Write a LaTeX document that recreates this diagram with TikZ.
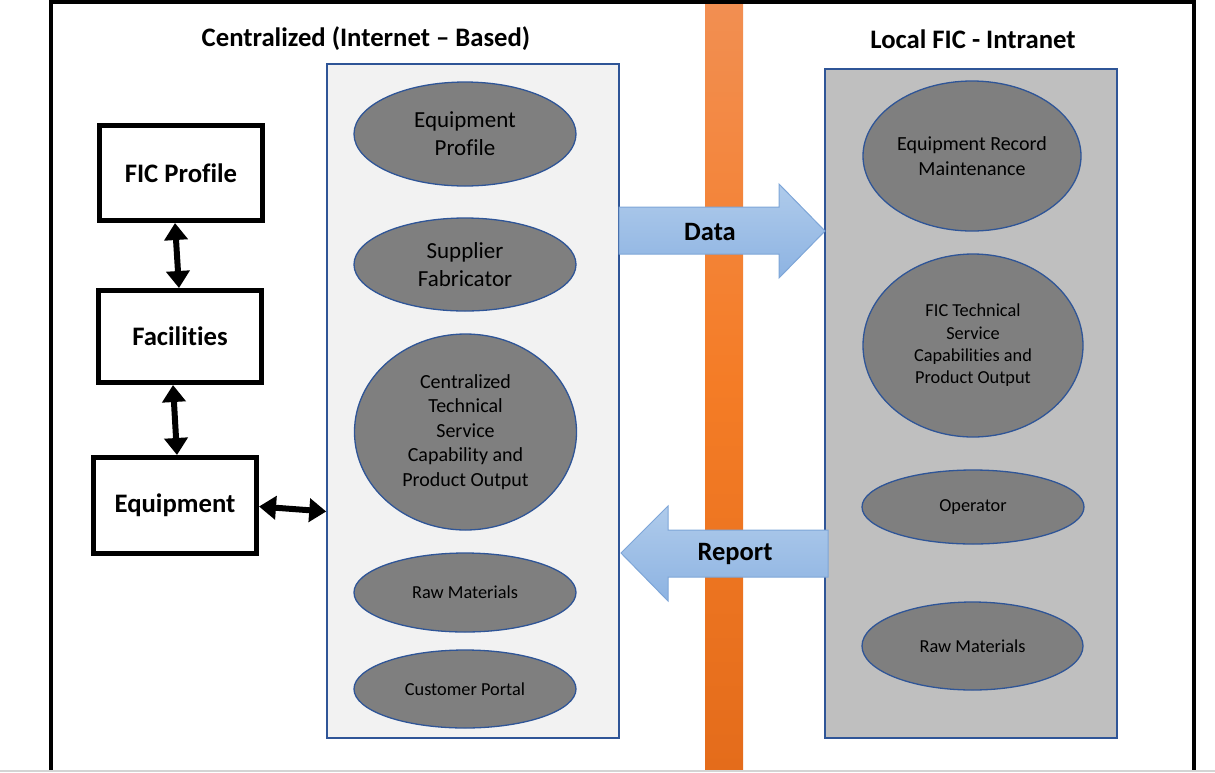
\documentclass[tikz,border=0pt]{standalone}
\usepackage{fontspec}
\setmainfont[Ligatures=CommonOff]{Carlito}
\usetikzlibrary{shapes.geometric,arrows.meta}
\definecolor{panelblue}{HTML}{2F5597}
\definecolor{ellfill}{HTML}{7F7F7F}
\definecolor{lpfill}{HTML}{F2F2F2}
\definecolor{rpfill}{HTML}{BFBFBF}
\definecolor{orTop}{HTML}{F28F52}
\definecolor{orMid}{HTML}{F47C26}
\definecolor{orBot}{HTML}{E46C1B}
\definecolor{arTop}{HTML}{AFCBEB}
\definecolor{arBot}{HTML}{8DB3E2}
\definecolor{arLine}{HTML}{7EA6D8}
\definecolor{edge}{HTML}{D4D4D4}
\begin{document}
\begin{tikzpicture}[x=1pt,y=-1pt,
 box/.style={draw=black,line width=5pt,minimum width=163pt,minimum height=95pt,inner sep=0pt,font=\fontsize{26.7}{31}\selectfont\bfseries},
 panel/.style={draw=panelblue,line width=1.5pt,inner sep=0pt,minimum width=292pt},
 ell/.style={ellipse,draw=panelblue,line width=1.3pt,fill=ellfill,inner sep=0pt,align=center,minimum width=222pt},
 big/.style={font=\fontsize{23}{28}\selectfont},
 mid/.style={font=\fontsize{20}{24.5}\selectfont},
 sml/.style={font=\fontsize{18.3}{22.3}\selectfont},
 title/.style={font=\fontsize{26.7}{31}\selectfont\bfseries},
 dbl/.style={line width=6pt,{Triangle[length=17pt,width=23pt]}-{Triangle[length=17pt,width=23pt]}},
 blockarrow/.style={top color=arTop,bottom color=arBot,draw=arLine,line width=1pt},
 arrowtext/.style={font=\fontsize{26.5}{31}\selectfont\bfseries},
]
\useasboundingbox (0,0) rectangle (1215,772);
% orange divider
\path[top color=orTop,bottom color=orBot,middle color=orMid] (705,0) rectangle (743,770);
% outer frame
\draw[line width=4pt] (51,770) -- (51,1.8) -- (1194,1.8) -- (1194,770);
\draw[edge,line width=1.5pt] (0,770.8) -- (1215,770.8);

% titles
\node[title] (t1) at (366,38.5) {Centralized (Internet – Based)};
\node[title] (t2) at (973,39.5) {Local FIC - Intranet};

% panels
\node[panel,fill=lpfill,minimum height=674pt] (lp) at (473,401) {};
\node[panel,fill=rpfill,minimum height=669pt] (rp) at (971,403.5) {};

% left ellipses
\node[ell,big,minimum height=104pt] (e1) at (465,134) {Equipment\\Profile};
\node[ell,big,minimum height=93pt] (e2) at (465,264.5) {Supplier\\Fabricator};
\node[ell,mid,minimum height=196pt] (e3) at (465.5,432) {Centralized\\Technical\\Service\\Capability and\\Product Output};
\node[ell,sml,minimum height=79pt] (e4) at (465,592.5) {Raw Materials};
\node[ell,sml,minimum height=78pt] (e5) at (465,689) {Customer Portal};

% right ellipses
\node[ell,mid,minimum width=218pt,minimum height=150pt] (r1) at (972,156) {Equipment Record\\Maintenance};
\node[ell,sml,minimum width=220pt,minimum height=183pt] (r2) at (973,345.5) {FIC Technical\\Service\\Capabilities and\\Product Output};
\node[ell,sml,minimum height=74pt] (r3) at (973,507) {Operator};
\node[ell,sml,minimum width=221pt,minimum height=88pt] (r4) at (972.5,646) {Raw Materials};

% left boxes
\node[box] (fic) at (181,173) {FIC Profile};
\node[box,minimum height=92pt] (fac) at (180,336.5) {Facilities};
\node[box,minimum height=96pt] (eq) at (175,505.5) {Equipment};

\draw[dbl] ([xshift=-6pt]fic.south) -- ([xshift=-1pt]fac.north);
\draw[dbl] ([xshift=-7pt]fac.south) -- ([xshift=2pt]eq.north);
\draw[dbl] ([yshift=-1pt]eq.east) -- ([yshift=-6pt]eq.east -| lp.west);

% block arrows
\path[blockarrow] (619,207) -- (779,207) -- (779,184) -- (825,231) -- (779,278) -- (779,254) -- (619,254) -- cycle;
\node[arrowtext] (data) at (710,231.5) {Data};
\path[blockarrow] (828,530) -- (668,530) -- (668,506) -- (621,553) -- (668,601) -- (668,577) -- (828,577) -- cycle;
\node[arrowtext] (rep) at (735,553.5) {Report};
\end{tikzpicture}
\end{document}
